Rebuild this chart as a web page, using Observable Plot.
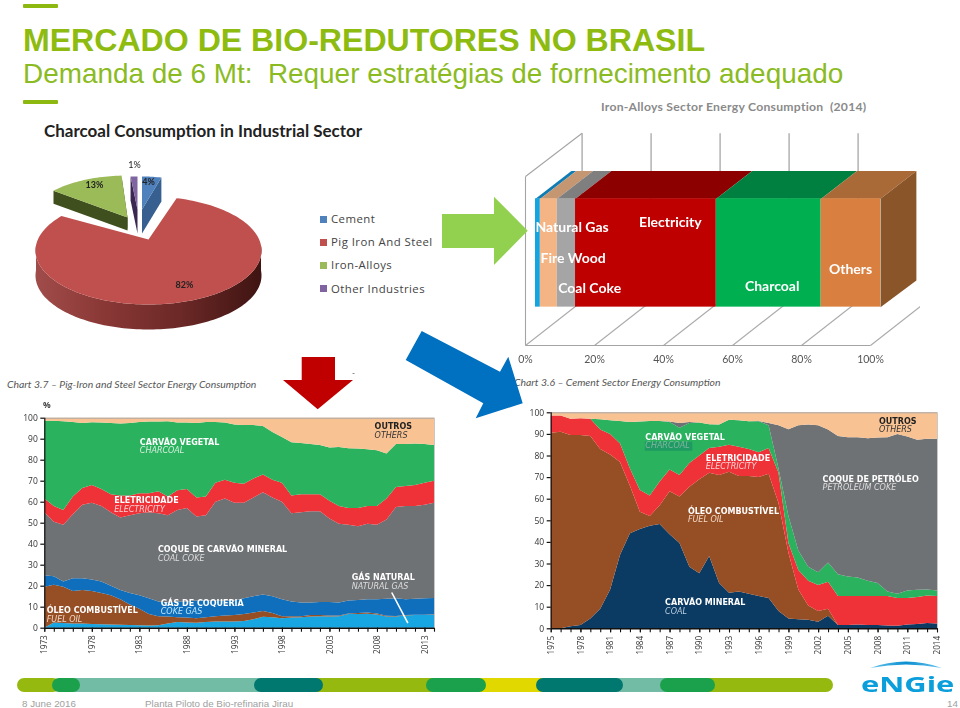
<!DOCTYPE html>
<html><head><meta charset="utf-8">
<script src="https://cdn.jsdelivr.net/npm/d3@7"></script>
<script src="https://cdn.jsdelivr.net/npm/@observablehq/plot@0.6"></script>
<style>
html,body{margin:0;padding:0;background:#fff}
#slide{position:relative;width:960px;height:708px;overflow:hidden;background:#fff}
#slide>*{position:absolute}
.t{white-space:nowrap}
#slide>svg{filter:blur(.3px)}
</style></head><body><div id="slide"></div>
<script>
// ---------- Pie: charcoal consumption in industrial sector ----------
const pieNames = ["Cement","Pig Iron And Steel","Iron-Alloys","Other Industries"];
const pieShares = [4,82,13,1];
const pieColors = ["#4f81bd","#c0504d","#9bbb59","#8064a2"];

// ---------- 3D bar: iron-alloys energy 2014 ----------
const barNames = ["Natural Gas","Fire Wood","Coal Coke","Electricity","Charcoal","Others"];
const barShares = [1.4,4.9,5.3,40.8,30.4,17.2];
const barFront = ["#12a5e2","#f5b483","#a5a5a5","#bf0000","#00b050","#d98040"];
const barTop = ["#0f7db4","#c49672","#7f7f7f","#8c0000","#008040","#aa6a38"];
const barLabelAt = [[13.5,.696],[13.8,.515],[18.6,.335],[42,.728],[71.5,.347],[94.2,.448]];
const barTicks = [0,20,40,60,80,100];

// ---------- Chart 3.7 Pig-iron & steel (cumulative upper edges, %) ----------
const pigYears = d3.range(1973,2015);
const pigGas = [0,2.5,2.2,2,2,1.8,1.7,1.5,1.4,1.3, 1.2,1,1.2,2,2.7,2.5,2.4,2.7,2.9,3, 3,3.2,4,5.2,5,4.5,4.8,5,5.3,5.5, 5.3,5.5,6.5,6.5,6.6,6.3,5.3,5.3,5.8,6, 6,6.2];
const pigFuel = [19.5,20.5,19.5,17.5,18,17.5,16.5,15.5,13.5,11, 9,6.5,5.5,5.3,5,4.8,4.5,5,5.5,5.8, 6,6.5,7.2,8,7,5.5,5.5,5.5,6,6, 5.8,5.8,6.8,7,7.2,6.8,5.7,5.6,6,6.2, 6.2,6.4];
const pigCokeGas = [25,24.5,22,23.5,23.5,23,22,20,18,16.5, 15.5,14,12.5,12,12.5,12.5,13,13,12.8,13, 13,14,15,15.8,15,13.5,12.5,12,12,12.2, 12.2,12,13,13.2,13.5,13.5,13.8,14,13.5,13.8, 14,14.2];
const pigCoalCoke = [55,50.5,49,54,58.5,59.5,58,55,52.5,53.5, 54.5,55,54.5,53.5,56,57,53,53.5,60,61.5, 59.5,59.5,62,64.5,62,60,54.5,55,55.5,55.5, 52,49.5,49,48.3,49.5,49,51.5,57.5,58,58, 58.5,59.5];
const pigElectricity = [61.5,58,56,62.5,66.5,68,66,63.5,63,63, 64,64,65,62.5,65.5,66,62,62.5,69,70.5, 69,68.5,71,73,70.5,69,63,63.5,63.5,63.5, 60.5,58,57,57,58,58,61.5,67,67.5,68, 69,70];
const pigCharcoal = [98.5,98.5,98.3,98,97.5,97.8,97.7,97.5,97.2,97.5, 98,98.2,98.2,98.3,97.7,97.7,97.5,98,98,97.7, 96.8,96.5,96.5,96,93.2,90.8,88.3,88,87.5,87, 85.8,86,85.5,85.3,85,84.5,83,87.5,87.5,87.7, 87.5,87];
const pigOthers = pigYears.map(() => 100);
const pigLabels = [
  [2007.7,95.9,"OUTROS",1,"#222"],[2007.7,91.9,"OTHERS",0,"#333"],
  [1983,88.6,"CARVÃO VEGETAL",1,"#fff"],[1983,84.6,"CHARCOAL",0,"#d5f0de"],
  [1980.3,60.8,"ELETRICIDADE",1,"#fff"],[1980.3,56.7,"ELECTRICITY",0,"#fbd0d0"],
  [1984.9,37.3,"COQUE DE CARVÃO MINERAL",1,"#fff"],[1984.9,33.2,"COAL COKE",0,"#ddd"],
  [2005.3,24,"GÁS NATURAL",1,"#fff"],[2005.3,19.8,"NATURAL GAS",0,"#ddd"],
  [1985.2,12,"GÁS DE COQUERIA",1,"#fff"],[1985.2,8.1,"COKE GAS",0,"#bfe6fa"],
  [1973.2,8.6,"ÓLEO COMBUSTÍVEL",1,"#fff"],[1973.2,4.4,"FUEL OIL",0,"#f2d9c5"]
];

// ---------- Chart 3.6 Cement (cumulative upper edges, %) ----------
const cemYears = d3.range(1975,2015);
const cemCoal = [0,0,1,1.5,4.5,9,18,34,44,46, 47.5,48.3,43.5,39.5,28.5,25.5,33.5,21,16.5,17, 16,15,14,8,4.5,4.2,4,3,5.8,1.5, 1.5,1.8,1.5,1.5,1.3,1.2,1.8,2,2.5,2.2];
const cemFuel = [90.5,91,89.5,89.5,89,83,80.5,77,66,54, 52,57,63.5,61,65.5,69,72,71,72.5,70.5, 70.5,70,71.5,58,35,18,10.5,8,9,1.5, 1.5,1.8,1.5,1.5,1.3,1.2,1.8,2,2.5,2.2];
const cemElectricity = [98.5,98.5,97,97.2,97,92,90,85.5,74,64, 61.5,68,73.5,71,76.5,80,83.5,84,85,84, 83,81.5,83.5,72,39.5,27,22,20,21.5,15, 15,15,15,15,15,14,14,14.5,15.2,15];
const cemCharcoal = [98.5,98.5,97,97.2,97,96.8,96.3,96,95.5,95.7, 96,96,95.5,92.8,95,95.3,94.5,94.3,96.5,96.3, 95.8,95.8,94,74,52,36,28.5,26,30.5,25, 24,23.5,22,21,17,16,17.5,17.8,18,17.5];
const cemPetcoke = [98.5,98.5,97,97.2,97,96.8,96.3,96,95.5,95.7, 96,96,95.7,95,95.5,95.3,94.5,94.3,96.5,96.3, 95.8,96,95,94,92.2,94,94.3,94,92,89, 88.5,88.5,88,88.3,88.5,90,88.8,87.3,87.7,87.8];
const cemOthers = cemYears.map(() => 100);
const cemLabels = [
  [2008.1,96.1,"OUTROS",1,"#222"],[2008.1,92.4,"OTHERS",0,"#333"],
  [1984.5,88.7,"CARVÃO VEGETAL",1,"#fff"],[1984.5,84.7,"CHARCOAL",0,"#7fb5a0"],
  [1990.6,79,"ELETRICIDADE",1,"#fff"],[1990.6,75,"ELECTRICITY",0,"#fbd0d0"],
  [2002.4,69.3,"COQUE DE PETRÓLEO",1,"#fff"],[2002.4,65.3,"PETROLEUM COKE",0,"#ddd"],
  [1988.8,54.5,"ÓLEO COMBUSTÍVEL",1,"#fff"],[1988.8,50.5,"FUEL OIL",0,"#f2d9c5"],
  [1986.5,12,"CARVÃO MINERAL",1,"#fff"],[1986.5,8.2,"COAL",0,"#b9cfe0"]
];
const cOthers="#f8c293",cCharcoal="#2bb25f",cElec="#ee3238",cCoke="#6f7275",cCokeGas="#0f6fbc",cFuel="#964e25",cGas="#17a6e2",cCoal="#0b3a63";

const slide = document.getElementById("slide");
function place(node,l,t){node.style.left=l+"px";node.style.top=t+"px";node.style.position="absolute";slide.appendChild(node);return node;}
function div(l,t,css,html){const d=document.createElement("div");d.style.cssText=css;if(html!=null)d.innerHTML=html;return place(d,l,t);}
function txt(l,t,css,s){const d=div(l,t,css,null);d.className="t";d.textContent=s;return d;}

// ---------- Header ----------
div(23,4,"width:35px;height:4px;background:#8cb80f;border-radius:1px");
div(23,100,"width:35px;height:4px;background:#8cb80f;border-radius:1px");
txt(23,22,"font:bold 32.1px/36px 'Liberation Sans';color:#8ebb10","MERCADO DE BIO-REDUTORES NO BRASIL");
txt(23,58,"font:27.9px/32px 'Liberation Sans';color:#8bbb22","Demanda de 6 Mt:  Requer estratégias de fornecimento adequado").style.whiteSpace="pre";

// ---------- Pie ----------
txt(44,121,"font:bold 17px/20px Lato;color:#222","Charcoal Consumption in Industrial Sector");
const tau = Math.PI*2;
const angles = (() => { let c=0; const rows=pieShares.map(v=>{const a=c; c+=v; return [a/100*tau,c/100*tau];}); return rows; })();
function arc(a0,a1,cx,cy,rx,ry,dy=0){
  const n=Math.max(2,Math.ceil((a1-a0)/0.03));
  return d3.range(n+1).map(i=>{const a=a0+(a1-a0)*i/n;return {x:cx+rx*Math.sin(a),y:cy-ry*Math.cos(a)+dy};});
}
const poly=(pts,fill)=>Plot.line(pts,{x:"x",y:"y",fill,stroke:"none"});
const shift=(p,dy)=>({x:p.x,y:p.y+dy});
function wedgeMarks(i,apex,rx,ry,depth,wallFill,ex,ey){
  const [a0,a1]=angles[i];
  const outer=arc(a0,a1,ex,ey,rx,ry);
  const first=outer[0],last=outer[outer.length-1];
  return [
    poly([apex,first,shift(first,depth),shift(apex,depth)],wallFill),
    poly([apex,last,shift(last,depth),shift(apex,depth)],wallFill),
    poly([apex,...outer],pieColors[i])
  ];
}
const pieGrad=()=>{const d=d3.create("svg:defs");const g=d.append("linearGradient").attr("id","redWall");
  [[0,"#a04c4a"],[.3,"#8a3836"],[.65,"#6a2826"],[1,"#3f1412"]].forEach(([o,c])=>g.append("stop").attr("offset",o).attr("stop-color",c));return d.node();};
const redAngles=angles[1];
const redArc=arc(redAngles[0],redAngles[1],148,250,113,54);
const redFront=redArc.filter(p=>p.y>=244);
const pieLabels=[[134,165,"1%","normal"],[148,182,"4%","bold"],[94,185,"13%","bold"],[184,285,"82%","bold"]];
place(Plot.plot({width:300,height:200,margin:0,
  x:{domain:[0,300],range:[0,300],axis:null},y:{domain:[150,350],range:[0,200],axis:null},style:{background:"transparent"},
  marks:[pieGrad,
    ...wedgeMarks(0,{x:141.5,y:209},78,33,24,"#375f8f",141.5,209),
    ...wedgeMarks(3,{x:137,y:209},110,33,24,"#3a2852",137,209),
    ...wedgeMarks(2,{x:127,y:217},96,42,13,"#3f4f1e",127,217),
    poly([...redFront,...redFront.map(p=>shift(p,25)).reverse()],"url(#redWall)"),
    poly([{x:148,y:239},...redArc],pieColors[1]),
    ...pieLabels.map(([x,y,s,w])=>Plot.text([s],{x:()=>x,y:()=>y,text:d=>d,fontSize:9,fontWeight:w,fontFamily:"Lato",fill:"#222"}))
  ]}),0,150);
// legend
pieNames.forEach((n,i)=>{
  div(320,215.5+i*23.2,`width:7px;height:7px;background:${pieColors[i]}`);
  txt(331,211+i*23.2,"font:11.4px/16px 'Open Sans';color:#444;letter-spacing:.45px",n);
});

// ---------- 3D stacked bar ----------
txt(601,99,"font:bold 12.2px/16px Lato;color:#8a8a8a;letter-spacing:.26px","Iron-Alloys Sector Energy Consumption  (2014)").style.whiteSpace="pre";
const bar0=2.9, dep=10.4, base=.227, topH=.868, topBack=1.033, sideBack=.385;
const gridBack=16.4, floorBack=.262, wallTop=1.256;
let cum=bar0;
const barRows=barShares.map((v,i)=>{const r={name:barNames[i],x1:cum,x2:cum+v,front:barFront[i],top:barTop[i]};cum+=v;return r;});
const barEnd=cum;
const link=(rows,stroke)=>Plot.link(rows,{x1:"a",y1:"b",x2:"c",y2:"d",stroke,strokeWidth:1.1});
place(Plot.plot({width:420,height:250,marginLeft:25,marginRight:50,marginTop:51,marginBottom:30,
  x:{domain:[0,100],axis:null},y:{domain:[0,1],axis:null},style:{background:"transparent",fontFamily:"Lato"},
  marks:[
    link(barTicks.map(p=>({a:p+gridBack,b:floorBack,c:p+gridBack,d:wallTop})),"#969696"),
    link(barTicks.map(p=>({a:p,b:0,c:p+gridBack,d:floorBack})),"#aaaaaa"),
    link([{a:0,b:0,c:100,d:0},{a:0,b:0,c:0,d:1},{a:0,b:1,c:gridBack,d:wallTop}],"#a4a4a4"),
    ...barRows.map(r=>poly([{x:r.x1,y:topH},{x:r.x2,y:topH},{x:r.x2+dep,y:topBack},{x:r.x1+dep,y:topBack}],r.top)),
    poly([{x:barEnd,y:base},{x:barEnd,y:topH},{x:barEnd+dep,y:topBack},{x:barEnd+dep,y:sideBack}],"#8a5528"),
    Plot.rect(barRows,{x1:"x1",x2:"x2",y1:()=>base,y2:()=>topH,fill:"front"}),
    Plot.text(barNames,{x:(d,i)=>barLabelAt[i][0],y:(d,i)=>barLabelAt[i][1],text:d=>d,fill:"#fff",fontWeight:"bold",fontSize:14,fontFamily:"Lato"}),
    Plot.axisX({ticks:barTicks,tickSize:0,tickPadding:10,tickFormat:d=>d+"%",fontSize:10.5,fill:"#555",fontFamily:"Lato"})
  ]}),500,125);

// ---------- Area charts ----------
function stackRows(years,tops){
  return tops.map((s,k)=>({fill:s.fill,rows:years.map((y,i)=>({year:y,lo:k?tops[k-1].top[i]:0,hi:s.top[i]}))}));
}
function areaChart(o){
  return Plot.plot({width:o.w,height:o.h,marginLeft:o.ml,marginRight:o.mr,marginTop:o.mt,marginBottom:o.mb,
    x:{domain:o.xd,axis:null},y:{domain:[0,100],axis:null},style:{background:"transparent",fontFamily:"Open Sans"},
    marks:[
      ...stackRows(o.years,o.tops).map(s=>Plot.areaY(s.rows,{x:"year",y1:"lo",y2:"hi",fill:s.fill})),
      ...(o.extra||[]),
      Plot.ruleY([100],{stroke:"#a8a8a8"}),Plot.ruleX([o.xd[1]],{stroke:"#c8c8c8"}),
      Plot.axisY({ticks:d3.range(0,101,10),tickSize:4,tickPadding:3,fontSize:8.5,fill:"#333",stroke:"#111",strokeWidth:1.2,tickFormat:"d"}),
      Plot.axisX({ticks:o.years,tickSize:4,tickFormat:()=>"",stroke:"#111",strokeWidth:1.1}),
      Plot.axisX({ticks:o.labelYears,tickSize:4,tickPadding:3,tickRotate:-90,tickFormat:"d",fontSize:8.2,fill:"#333",stroke:"#111"}),
      Plot.ruleX([o.xd[0]],{stroke:"#111",strokeWidth:1.2}),Plot.ruleY([0],{stroke:"#111",strokeWidth:1.4}),
      Plot.text(o.labels.filter(d=>d[3]),{x:d=>d[0],y:d=>d[1],text:d=>d[2],fill:d=>d[4],textAnchor:"start",fontFamily:"DejaVu Sans",fontWeight:"bold",fontSize:8}),
      Plot.text(o.labels.filter(d=>!d[3]),{x:d=>d[0],y:d=>d[1],text:d=>d[2],fill:d=>d[4],textAnchor:"start",fontFamily:"DejaVu Sans",fontStyle:"italic",fontSize:8}),
      ...(o.after||[])
    ]});
}
txt(7,377,"font:italic 10.4px/14px Lato;color:#555","Chart 3.7 – Pig-Iron and Steel Sector Energy Consumption");
place(areaChart({w:450,h:270,ml:44.3,mr:16,mt:17.7,mb:42.3,xd:[1973,2014],years:pigYears,
  labelYears:d3.range(1973,2014,5),labels:pigLabels,
  tops:[{top:pigGas,fill:cGas},{top:pigFuel,fill:cFuel},{top:pigCokeGas,fill:cCokeGas},{top:pigCoalCoke,fill:cCoke},{top:pigElectricity,fill:cElec},{top:pigCharcoal,fill:cCharcoal},{top:pigOthers,fill:cOthers}],
  after:[Plot.link([{a:2009.5,b:17,c:2011.2,d:2.4}],{x1:"a",y1:"b",x2:"c",y2:"d",stroke:"#fff",strokeWidth:1.6}),
         Plot.text(["%"],{x:()=>1973,y:()=>106,text:d=>d,fontSize:8.5,fontWeight:"bold",fill:"#444",dx:2})]
}),0,400);
txt(514,375,"font:italic 10.4px/14px Lato;color:#555","Chart 3.6 – Cement Sector Energy Consumption");
place(areaChart({w:460,h:260,ml:50.7,mr:23,mt:12.3,mb:31.7,xd:[1975,2014],years:cemYears,
  labelYears:d3.range(1975,2015,3),labels:cemLabels,
  tops:[{top:cemCoal,fill:cCoal},{top:cemFuel,fill:cFuel},{top:cemElectricity,fill:cElec},{top:cemCharcoal,fill:cCharcoal},{top:cemPetcoke,fill:cCoke},{top:cemOthers,fill:cOthers}],
  extra:[Plot.rect([{a:1984.5,b:1989.3,c:82.2,d:86.4}],{x1:"a",x2:"b",y1:"c",y2:"d",fill:"#1f9a63"})]
}),500,400);

// ---------- Arrows ----------
const arrow=(pts,color)=>{const d=document.createElement("div");d.style.cssText=`left:0;top:0;width:960px;height:708px;background:${color};clip-path:polygon(${pts.map(p=>p[0]+"px "+p[1]+"px").join(",")})`;return place(d,0,0);};
arrow([[442,214],[494,214],[494,196.7],[527.7,230.7],[494,265],[494,248],[442,248]],"#92d050");
arrow([[301.7,357],[335,357],[335,380],[353,380],[317.7,409.3],[283,380],[301.7,380]],"#c00000");
arrow([[421.7,331],[500,371.7],[508.3,356.7],[522.7,403.3],[475.7,418.3],[483.3,403.3],[405.7,360]],"#0070c0");
txt(352,368,"font:8px/10px Lato;color:#444","-");

// ---------- Footer band ----------
const seg=(l,r,c,round)=>div(l,678.3,`width:${r-l}px;height:14px;background:${c};${round?"border-radius:7px;":""}`);
seg(17.3,60,"#96b90f",1);
seg(70,270,"#72bca5");
seg(52,80,"#1ba14b",1);
seg(300,440,"#96b90f");
seg(253.5,323,"#00786f",1);
seg(460,560,"#e1d800");
seg(426,486,"#1ba14b",1);
seg(600,680,"#72bca5");
seg(536,623,"#00786f",1);
seg(700,833,"#96b90f",1);
seg(660,715,"#1ba14b",1);
txt(22,698,"font:9.8px/12px 'Liberation Sans';color:#a0a0a0","8 June 2016");
txt(145,698,"font:9.8px/12px 'Liberation Sans';color:#a0a0a0","Planta Piloto de Bio-refinaria Jirau");
txt(947,698,"font:9.8px/12px 'Liberation Sans';color:#a0a0a0","14");
// ---------- Logo ----------
div(868,658,"width:76px;height:11px;background:linear-gradient(90deg,#6cc7ee,#0b8fd0 50%,#6cc7ee);clip-path:path('M2 10 Q38 -3 74 10 Q38 3 2 10Z')");
txt(861,672,"font:bold 21px/24px 'Open Sans';color:#0a9edb;transform-origin:left top;transform:scaleX(1.47)","eNGie");
</script></body></html>
